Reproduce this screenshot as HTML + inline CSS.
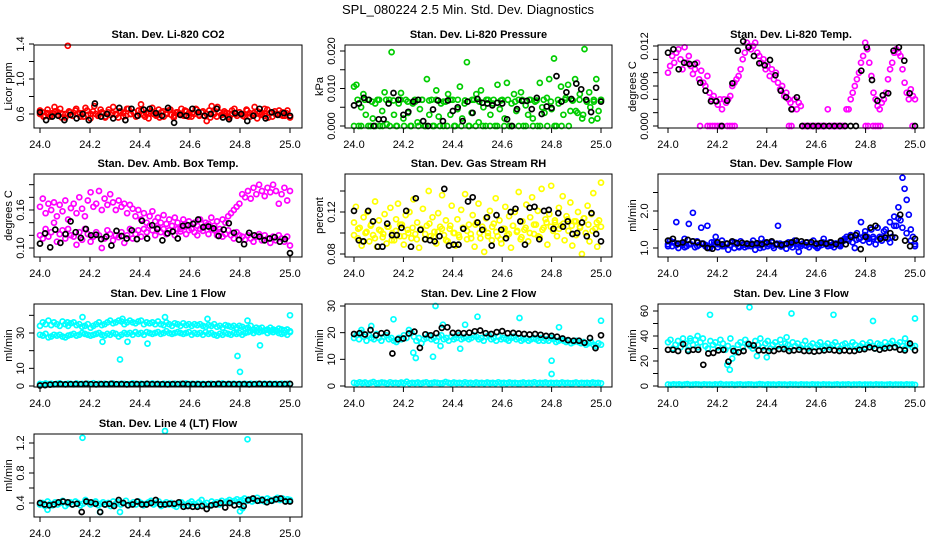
<!DOCTYPE html>
<html><head><meta charset="utf-8"><style>
html,body{margin:0;padding:0;background:#fff;}
svg{display:block;font-family:"Liberation Sans",Arial,sans-serif;}
</style></head><body>
<svg id="chart" width="936" height="540" viewBox="0 0 936 540">
<text x="468" y="14" text-anchor="middle" font-size="13">SPL_080224  2.5 Min. Std. Dev. Diagnostics</text>
</svg>
<script>
// ---------- data ----------
const co2Red=[0.60,0.62,0.58,0.65,0.57,0.61,0.63,0.59,0.66,0.60,0.56,1.38,0.62,0.58,0.64,0.60,0.57,0.61,0.67,0.59,0.55,0.63,0.60,0.58,0.65,0.61,0.57,0.62,0.59,0.68,0.60,0.56,0.63,0.61,0.58,0.66,0.60,0.62,0.57,0.64,0.71,0.59,0.61,0.55,0.63,0.60,0.58,0.65,0.62,0.57,0.61,0.64,0.59,0.56,0.62,0.60,0.66,0.58,0.63,0.61,0.57,0.60,0.65,0.59,0.62,0.58,0.52,0.64,0.69,0.60,0.57,0.62,0.59,0.63,0.61,0.56,0.60,0.66,0.58,0.62,0.60,0.57,0.64,0.61,0.59,0.68,0.55,0.62,0.60,0.58,0.65,0.61,0.57,0.63,0.60,0.59,0.62,0.58,0.64,0.56];
const co2Red2=[0.64,0.57,0.61,0.59,0.68,0.62,0.56,0.60,0.63,0.58,0.66,0.61,0.57,0.64,0.60,0.69,0.58,0.62,0.56,0.65,0.61,0.59,0.63,0.57,0.66,0.60,0.62,0.58,0.64,0.57,0.61,0.67,0.59,0.56,0.63,0.60,0.65,0.58,0.62,0.59,0.64,0.57,0.61,0.66,0.58,0.63,0.60,0.56,0.62,0.68,0.59,0.61,0.57,0.64,0.60,0.62,0.58,0.65,0.57,0.61,0.63,0.59,0.66,0.56,0.62,0.60,0.64,0.58,0.61,0.57];
const co2Black=[0.62,0.53,0.57,0.58,0.53,0.59,0.55,0.60,0.53,0.72,0.57,0.60,0.55,0.67,0.53,0.66,0.58,0.65,0.66,0.61,0.58,0.67,0.50,0.59,0.58,0.66,0.62,0.58,0.60,0.66,0.56,0.54,0.61,0.60,0.52,0.58,0.66,0.55,0.62,0.59,0.61,0.58];
const presGreen=[0.0105,0.011,0,0.005,0.0085,0.003,0.007,0,0.002,0.006,0.007,0,0.004,0.009,0.0005,0.007,0.0197,0.003,0,0.006,0.0088,0.002,0.007,0.0035,0,0.006,0.0065,0.001,0.0045,0.007,0,0.0125,0.003,0.007,0,0.0095,0.0025,0.006,0,0.0065,0.0085,0.003,0.007,0,0.0045,0.0105,0.002,0.006,0.017,0,0.0035,0.007,0.0085,0.001,0.0095,0.005,0,0.007,0.003,0.006,0,0.011,0.0045,0.007,0.002,0.0115,0,0.006,0.0085,0.004,0.007,0.009,0,0.0055,0.003,0.007,0.002,0.0065,0,0.0115,0.005,0.0035,0.0075,0.0125,0.0045,0.018,0,0.006,0.0105,0.003,0.0075,0.011,0.004,0.0068,0.0125,0.0035,0.0085,0.002,0.0205,0.0065,0.009,0.0015,0.0065,0.0125,0.004,0.007];
const presGreen2=[0,0.007,0,0.007,0,0.0065,0,0.007,0,0.007,0,0.0068,0,0.007,0,0.0065,0,0.007,0,0.007,0,0.0068,0,0.007,0,0.0065,0,0.007,0,0.007,0,0.0068,0,0.007,0,0.0065,0,0.007,0,0.007,0,0.0068,0,0.007,0,0.0065,0,0.007,0,0.007,0,0.0068,0,0.007,0,0.0065,0,0.007,0,0.007,0,0.0068,0.004,0.007,0.003,0.0065,0.005,0.007,0.002,0.007];
const presBlack=[0.0055,0.006,0.0075,0.007,0,0.0018,0.0018,0.006,0.0088,0.007,0.003,0.0038,0.0065,0.007,0.0013,0,0.0044,0.0068,0.0013,0.0068,0.004,0.005,0.0013,0.0065,0.0035,0.0072,0.0062,0.006,0.0055,0.0062,0.006,0.0018,0,0.0045,0.0067,0.0067,0.0045,0.0075,0.0032,0.0052,0.0048,0.0133,0.0065,0.009,0.0072,0.0113,0.0098,0.007,0.0037,0.0102,0.0065];
const tempMag=[0.008,0.009,0.0105,0.0095,0.011,0.0115,0.01,0.0085,0.0118,0.0095,0.0105,0.009,0.0078,0.0085,0.0095,0.007,0.0083,0.0065,0.006,0.0075,0.005,0.004,0.0045,0.0038,0.0032,0.004,0.0025,0.004,0.0035,0.004,0.0045,0.006,0.0065,0.007,0.0075,0.0085,0.01,0.011,0.0125,0.012,0.0115,0.012,0.0125,0.011,0.0105,0.0095,0.01,0.0085,0.009,0.0075,0.0085,0.007,0.008,0.0065,0.0055,0.006,0.0045,0.005,0.004,0.0035,0.0025,0.004,0.0025,0.0035,0.003,0,0,0,0,0,0,0,0,0,0,0,0,0.0025,0,0,0,0,0,0,0,0,0.0025,0.0025,0.004,0.005,0.006,0.007,0.008,0.0095,0.0105,0.0125,0.0115,0.0095,0.0075,0.005,0.004,0.003,0.0025,0.0035,0.004,0.005,0.007,0.0085,0.0095,0.011,0.0115,0.011,0.0105,0.0085,0.0065,0.005,0.004,0.0055,0.0045,0.004];
const tempZeroX=[24.13,24.16,24.17,24.18,24.19,24.2,24.21,24.22,24.24,24.25,24.26,24.27,24.49,24.5,24.8,24.81,24.83,24.84,24.85,24.86,24.99];
const tempZeroY=[0,0,0,0,0,0,0,0,0,0,0,0,0,0,0,0,0,0,0,0,0];
const tempBlack=[0.011,0.0115,0.0085,0.0095,0.0093,0.0093,0.0065,0.0053,0.0037,0.0037,0,0.0038,0.0064,0.0113,0.0127,0.0118,0.0105,0.0094,0.0091,0.0099,0.0076,0.0053,0.0043,0.0025,0.0043,0,0,0,0,0,0,0,0,0,0,0,0.0083,0.0118,0.0069,0.0038,0.0046,0.0049,0.0113,0.0118,0.0098,0.0049,0];
const ambUpper=[0.165,0.178,0.155,0.17,0.16,0.172,0.15,0.168,0.158,0.175,0.145,0.163,0.17,0.155,0.18,0.162,0.15,0.175,0.188,0.165,0.17,0.19,0.16,0.178,0.168,0.185,0.172,0.16,0.175,0.165,0.17,0.155,0.168,0.162,0.15,0.16,0.145,0.155,0.14,0.15,0.158,0.142,0.148,0.14,0.152,0.138,0.145,0.135,0.148,0.14,0.13,0.145,0.137,0.142,0.13,0.14,0.135,0.145,0.132,0.14,0.138,0.148,0.135,0.142,0.13,0.145,0.14,0.15,0.155,0.16,0.165,0.17,0.185,0.18,0.19,0.178,0.195,0.185,0.2,0.19,0.182,0.195,0.188,0.2,0.19,0.17,0.185,0.195,0.175,0.19];
const ambLower=[0.12,0.115,0.13,0.118,0.125,0.14,0.11,0.122,0.128,0.115,0.13,0.12,0.118,0.105,0.125,0.113,0.13,0.122,0.11,0.118,0.125,0.12,0.1,0.115,0.128,0.122,0.112,0.12,0.117,0.125,0.108,0.12,0.13,0.115,0.122,0.128,0.118,0.13,0.125,0.135,0.128,0.12,0.132,0.125,0.13,0.122,0.128,0.135,0.12,0.13,0.126,0.133,0.122,0.128,0.13,0.125,0.12,0.13,0.127,0.135,0.122,0.13,0.128,0.12,0.125,0.118,0.122,0.128,0.12,0.115,0.125,0.12,0.118,0.113,0.12,0.115,0.11,0.118,0.122,0.112,0.12,0.115,0.108,0.118,0.112,0.12,0.115,0.11,0.118,0.104];
const ambBlack=[0.107,0.123,0.101,0.129,0.108,0.122,0.142,0.125,0.116,0.13,0.12,0.121,0.114,0.118,0.104,0.127,0.119,0.115,0.128,0.114,0.143,0.115,0.136,0.13,0.112,0.123,0.126,0.115,0.135,0.136,0.138,0.145,0.133,0.134,0.131,0.119,0.129,0.139,0.124,0.113,0.106,0.124,0.12,0.118,0.112,0.115,0.117,0.11,0.114,0.092];
const rhYellow=[0.11,0.125,0.095,0.105,0.088,0.115,0.1,0.12,0.092,0.108,0.098,0.13,0.087,0.112,0.102,0.096,0.118,0.09,0.106,0.124,0.1,0.093,0.113,0.128,0.097,0.108,0.089,0.117,0.103,0.12,0.095,0.132,0.099,0.11,0.086,0.104,0.123,0.094,0.107,0.14,0.097,0.115,0.101,0.09,0.119,0.106,0.136,0.098,0.112,0.092,0.104,0.126,0.1,0.088,0.113,0.096,0.122,0.105,0.137,0.094,0.108,0.099,0.117,0.087,0.11,0.128,0.095,0.106,0.082,0.114,0.1,0.121,0.093,0.109,0.133,0.097,0.112,0.09,0.104,0.125,0.098,0.116,0.086,0.107,0.12,0.101,0.139,0.094,0.111,0.103,0.127,0.092,0.115,0.134,0.099,0.108,0.121,0.096,0.142,0.105,0.113,0.089,0.118,0.145,0.102,0.11,0.097,0.124,0.107,0.135,0.093,0.116,0.102,0.129,0.088,0.111,0.098,0.12,0.106,0.08,0.114,0.1,0.126,0.092,0.118,0.138,0.104,0.087,0.112,0.148];
const rhYellow2=[0.098,0.104,0.092,0.101,0.107,0.095,0.103,0.099,0.106,0.093,0.102,0.108,0.097,0.1,0.105,0.094,0.103,0.099,0.109,0.096,0.101,0.104,0.093,0.107,0.1,0.098,0.105,0.102,0.095,0.108,0.1,0.103,0.097,0.106,0.101,0.094,0.104,0.099,0.107,0.102,0.096,0.105,0.1,0.108,0.097,0.103,0.11,0.106,0.112,0.104,0.109,0.113,0.107,0.111,0.105,0.114,0.108,0.102,0.11,0.106];
const rhBlack=[0.121,0.093,0.092,0.121,0.111,0.087,0.087,0.109,0.098,0.098,0.105,0.121,0.087,0.133,0.103,0.094,0.093,0.092,0.097,0.142,0.088,0.089,0.089,0.104,0.13,0.134,0.11,0.103,0.115,0.088,0.117,0.103,0.095,0.12,0.123,0.111,0.089,0.124,0.125,0.094,0.121,0.122,0.104,0.119,0.106,0.111,0.099,0.1,0.11,0.097,0.119,0.099,0.092];
const flowBlue=[1.1,1.2,1.05,1.15,1.7,1.0,1.12,1.08,1.25,1.05,1.65,1.1,1.95,1.02,1.18,1.08,1.55,1.12,1.05,1.6,1.0,1.15,1.08,1.3,1.02,1.1,1.2,1.05,1.12,0.95,1.08,1.15,1.0,1.1,1.05,1.18,1.08,1.02,1.12,1.1,1.05,1.2,0.95,1.1,1.08,1.25,1.02,1.12,1.05,1.1,1.15,1.0,1.08,1.6,1.12,1.05,1.1,0.98,1.15,1.08,1.02,1.2,1.1,0.9,1.05,1.12,1.08,1.15,1.02,1.1,1.2,1.05,1.0,1.12,1.08,1.25,1.1,1.05,1.15,1.08,1.02,1.12,1.1,1.05,1.18,1.25,1.3,1.2,1.35,1.15,1.0,1.4,1.25,1.7,1.2,1.45,1.3,1.15,1.5,1.25,1.1,1.55,1.3,1.2,1.45,1.35,1.25,1.15,1.3,1.85,1.6,2.1,1.75,2.9,2.6,2.3,1.9,1.5,1.3,1.05];
const flowBlue2=[1.05,1.15,1.08,1.12,1.02,1.1,1.18,1.05,1.12,1.08,1.0,1.15,1.1,1.05,1.12,1.08,1.15,1.02,1.1,1.05,1.12,1.08,1.0,1.15,1.1,1.06,1.12,1.04,1.1,1.08,1.14,1.02,1.1,1.06,1.12,1.08,1.04,1.15,1.1,1.06,1.12,1.08,1.2,1.25,1.3,1.22,1.28,1.35,1.25,1.3,1.22,1.28,1.5,1.7,1.6,1.8,1.55,1.4,1.2,1.1];
const flowBlack=[1.2,1.25,1.12,1.15,1.22,1.18,1.15,1.12,1.0,0.98,1.15,1.1,1.12,1.18,1.13,1.14,1.12,1.1,1.13,1.1,1.15,1.18,1.1,1.08,1.12,1.15,1.2,1.18,1.15,1.16,1.12,1.14,1.12,1.15,1.1,1.2,1.1,1.3,1.35,0.97,1.3,1.55,1.6,1.25,1.28,1.4,1.28,1.9,1.2,1.05,1.25];
const lowCyan=[1.2,1.0,1.4,1.1,1.3,0.9,1.2,1.5,1.0,1.1,1.3,1.2,0.9,1.4,1.1,1.2,1.0,1.3,1.1,1.6,1.0,1.2,1.1,1.3,0.9,1.2,1.4,1.0,1.1,1.3,1.2,1.0,1.1,1.5,1.2,1.0,1.3,1.1,1.2,1.0,1.4,1.1,1.2,0.9,1.3,1.1,1.2,1.0,1.3,1.1,1.2,1.0,1.4,1.1,1.2,1.0,1.3,1.1,1.2,1.0,1.1,1.3,1.0,1.2,1.1,1.4,1.0,1.2,1.1,1.3,1.0,1.2,1.1,1.2,1.0,1.3,1.1,1.2,1.0,1.1,1.3,1.0,1.2,1.1,1.2,1.0,1.3,1.1,1.2,1.0];
const line1Upper=[34,36,35,37,34.5,36,35,34,36.5,35,34,35.5,36,34.5,35,33.5,34,35,33,34,35,36,34.5,35,36,37,35.5,36,37,36.5,35,36,37,36,35.5,36.5,37,35,36,35.5,36,35,36.5,35,34.5,36,35,34,35.5,35,34,35.5,34.5,35,34,35,34.5,35,34,33.5,34.5,34,35,33.5,34,33,34.5,34,33.5,34,33,34,33.5,32.5,33,34,32,33,32.5,33,31.5,32,33,32,31.5,32.5,32,31.5,32,31];
const line1Lower=[29,28.5,29.5,27.5,28,29,28.5,29,28,27.5,28.5,29,29.5,28.5,29,30,29.5,29,28.5,29,29.5,30,29,28.5,29.5,29,30,29.5,28,29,30,29.5,30,29,30.5,29.5,30,29,30.5,30,29.5,30,30.5,29.5,30,31,30,29.5,30,30.5,30,29.5,30,30.5,29,30,29.5,30,29,30.5,29.5,30,29,28.5,29.5,29,30,29.5,29,30,29.5,30,29,30,30.5,31,30,31,30.5,31,31.5,30,31,30.5,31,30,29.5,30,29,30.5];
const line1OutX=[24.17,24.11,24.33,24.32,24.43,24.5,24.67,24.79,24.8,24.83,24.88,25.0,24.25,24.35];
const line1OutY=[39,36,38,15,24,39,38,17,8,37,23,40,25,25];
const line1Black=[0.3,0.5,0.8,1.0,1.1,0.9,1.0,1.1,1.0,1.2,1.0,0.9,1.1,1.0,1.2,1.0,1.1,0.9,1.0,1.1,1.0,1.2,1.0,1.1,1.0,0.9,1.1,1.0,1.2,1.0,1.1,1.0,0.9,1.1,1.0,1.2,1.0,1.1,1.0,1.0,1.1,0.9,1.0,1.2,1.0,1.1,1.0,1.0,1.1,1.2];
const line2Cyan=[18,19,17.5,20,18.5,17,19,18,17.5,19.5,18,17,18.5,19,17.5,18,17,16.5,18,17.5,19,18,21,20,18.5,17,18,16,17.5,18,19,17.5,18,17,18.5,19,17.5,18,17,18.5,17.5,18,19,17.5,18,18.5,17.5,18,19,18.5,17.5,18,17,18.5,19,17.5,18,17,18.5,17.5,18,17.5,17,18,18.5,17.5,18,17,17.5,18,17,17.5,18,17.5,17,18,17,17.5,17,18,17.5,16.5,17,17.5,17,16.5,17,16,16.5,17,16.5,16,16.5,15.5,16,16.5,15.5,15,16,15.5];
const line2OutX=[24.03,24.07,24.16,24.24,24.25,24.32,24.33,24.35,24.36,24.43,24.45,24.5,24.67,24.8,24.8,24.83,25.0];
const line2OutY=[21,22.5,25,12.5,10.5,11,30,15,23,14,23,26,25.5,9.5,4.5,22,24.5];
const line2Black=[19.5,19.8,19.3,21,19,19.8,20,12.2,17.5,17.8,19.7,20.4,14.3,19.4,19,19.8,21.8,22,19.9,19.9,19.8,20,20.5,20.8,19.8,19.5,20.2,20.6,19.8,19.9,19.7,19.5,19.3,19.5,19.2,18.8,18.8,18.5,17.8,17.2,17,17,16.2,18,14.2,19];
const line3Cyan=[35,37,30,33,36,31,38,34,29,36,33,37,31,35,38,32,30,36,33,35,31,37,34,29,32,38,30,27,33,35,31,37,34,32,30,36,33,38,31,34,36,30,33,35,32,37,31,34,33,30,35,32,34,31,33,36,30,32,34,31,33,35,30,32,34,31,33,35,32,30,33,34,31,32,35,33,30,32,34,31,33,35,32,30,34,33,31,35,32,34,36,31,33,35,32,30,34,33,31,32];
const line3OutX=[24.17,24.33,24.5,24.67,24.83,25.0,24.24,24.25,24.26,24.36,24.4,24.09,24.12,24.48,24.96];
const line3OutY=[57,63,58,57,52,54,17,13,22,24,23,38,40,39,38];
const line3Black=[29,29,28,33.5,28,29,29,17,26,26.5,28.5,29,19.5,28,27,28,33.5,32.5,28.5,28.5,28,28,29.5,29.5,28,28.5,29,28,28,27.5,28,28.5,29,28.5,28,28.5,28,28,29,29.5,31,30,29,30,30.5,31,29,28.5,34,28.5];
const line4Cyan=[0.38,0.4,0.36,0.42,0.39,0.37,0.41,0.38,0.4,0.43,0.36,0.39,0.41,0.38,0.42,0.4,0.37,0.39,0.44,0.41,0.38,0.4,0.42,0.37,0.39,0.41,0.38,0.4,0.36,0.42,0.39,0.41,0.38,0.4,0.43,0.37,0.39,0.41,0.38,0.42,0.4,0.37,0.39,0.41,0.43,0.38,0.4,0.42,0.36,0.39,0.41,0.38,0.4,0.37,0.35,0.39,0.41,0.38,0.36,0.4,0.42,0.39,0.37,0.41,0.44,0.38,0.4,0.36,0.42,0.39,0.41,0.38,0.43,0.4,0.42,0.44,0.41,0.43,0.45,0.42,0.44,0.46,0.43,0.45,0.42,0.44,0.47,0.43,0.45,0.42,0.46,0.44,0.43,0.45,0.47,0.44,0.46,0.43,0.45,0.44];
const line4OutX=[24.17,24.5,24.83,24.03,24.24,24.32,24.8,24.81];
const line4OutY=[1.27,1.36,1.25,0.31,0.28,0.28,0.29,0.33];
const line4Black=[0.4,0.38,0.37,0.38,0.41,0.42,0.41,0.38,0.39,0.28,0.42,0.41,0.39,0.28,0.38,0.39,0.36,0.44,0.4,0.37,0.38,0.42,0.38,0.38,0.4,0.44,0.38,0.38,0.39,0.39,0.41,0.35,0.36,0.35,0.35,0.36,0.32,0.37,0.38,0.4,0.34,0.4,0.37,0.38,0.36,0.44,0.46,0.43,0.44,0.41,0.43,0.45,0.46,0.42,0.42];
const xTickVals=[24.0,24.2,24.4,24.6,24.8,25.0];
const xTickLabels=["24.0","24.2","24.4","24.6","24.8","25.0"];

// ---------- layout ----------
const NS="http://www.w3.org/2000/svg";
const svg=document.getElementById('chart');
const cols=[{l:34,r:302,x0:40,x1:290},{l:345,r:612,x0:354,x1:601},{l:658,r:924,x0:668,x1:915}];
const rows=[{t:45,b:128},{t:174,b:257},{t:304,b:387},{t:434,b:517}];
function mk(tag,attrs,parent){const e=document.createElementNS(NS,tag);for(const k in attrs)e.setAttribute(k,attrs[k]);(parent||svg).appendChild(e);return e;}
const panels=[
 {c:0,r:0,title:"Stan. Dev. Li-820 CO2",ylab:"Licor ppm",v0:0.6,p0:114,v1:1.4,p1:44,ticks:[0.6,0.8,1.0,1.2,1.4],labs:[0.6,1.0,1.4],dec:1,
  series:[{y:co2Red,col:"#ff0000"},{y:co2Red2,col:"#ff0000"},{y:co2Black,col:"#000"}]},
 {c:1,r:0,title:"Stan. Dev. Li-820 Pressure",ylab:"kPa",v0:0,p0:126,v1:0.02,p1:51,ticks:[0,0.005,0.01,0.015,0.02],labs:[0,0.01,0.02],dec:3,
  series:[{y:presGreen,col:"#00cd00"},{y:presGreen2,col:"#00cd00"},{y:presBlack,col:"#000"}]},
 {c:2,r:0,title:"Stan. Dev. Li-820 Temp.",ylab:"degrees C",v0:0,p0:126,v1:0.012,p1:46,ticks:[0,0.002,0.004,0.006,0.008,0.01,0.012],labs:[0,0.006,0.012],dec:3,
  series:[{y:tempMag,col:"#ff00ff"},{x:tempZeroX,y:tempZeroY,col:"#ff00ff"},{y:tempBlack,col:"#000"}]},
 {c:0,r:1,title:"Stan. Dev. Amb. Box Temp.",ylab:"degrees C",v0:0.10,p0:248,v1:0.16,p1:210,ticks:[0.10,0.12,0.14,0.16,0.18,0.20],labs:[0.10,0.16],dec:2,
  series:[{y:ambUpper,col:"#ff00ff"},{y:ambLower,col:"#ff00ff"},{y:ambBlack,col:"#000"}]},
 {c:1,r:1,title:"Stan. Dev. Gas Stream RH",ylab:"percent",v0:0.08,p0:254,v1:0.12,p1:212,ticks:[0.08,0.10,0.12,0.14],labs:[0.08,0.12],dec:2,
  series:[{y:rhYellow,col:"#ffff00"},{y:rhYellow2,col:"#ffff00"},{y:rhBlack,col:"#000"}]},
 {c:2,r:1,title:"Stan. Dev. Sample Flow",ylab:"ml/min",v0:1.0,p0:248,v1:2.0,p1:211,ticks:[1.0,1.5,2.0,2.5],labs:[1.0,2.0],dec:1,
  series:[{y:flowBlue,col:"#0000ff"},{y:flowBlue2,col:"#0000ff"},{y:flowBlack,col:"#000"}]},
 {c:0,r:2,title:"Stan. Dev. Line 1 Flow",ylab:"ml/min",v0:0,p0:386,v1:30,p1:333,ticks:[0,10,20,30,40],labs:[0,10,30],dec:0,
  series:[{y:line1Upper,col:"#00ffff"},{y:line1Lower,col:"#00ffff"},{y:lowCyan,col:"#00ffff"},{x:line1OutX,y:line1OutY,col:"#00ffff"},{y:line1Black,col:"#000"}]},
 {c:1,r:2,title:"Stan. Dev. Line 2 Flow",ylab:"ml/min",v0:0,p0:386,v1:30,p1:306,ticks:[0,10,20,30],labs:[0,10,20,30],dec:0,
  series:[{y:line2Cyan,col:"#00ffff"},{y:lowCyan,col:"#00ffff"},{x:line2OutX,y:line2OutY,col:"#00ffff"},{y:line2Black,col:"#000"}]},
 {c:2,r:2,title:"Stan. Dev. Line 3 Flow",ylab:"ml/min",v0:0,p0:386,v1:60,p1:311,ticks:[0,10,20,30,40,50,60],labs:[0,20,40,60],dec:0,
  series:[{y:line3Cyan,col:"#00ffff"},{y:lowCyan,col:"#00ffff"},{x:line3OutX,y:line3OutY,col:"#00ffff"},{y:line3Black,col:"#000"}]},
 {c:0,r:3,title:"Stan. Dev. Line 4 (LT) Flow",ylab:"ml/min",v0:0.4,p0:503,v1:1.2,p1:443,ticks:[0.4,0.6,0.8,1.0,1.2],labs:[0.4,0.8,1.2],dec:1,
  series:[{y:line4Cyan,col:"#00ffff"},{x:line4OutX,y:line4OutY,col:"#00ffff"},{y:line4Black,col:"#000"}]}
];
panels.forEach((p,pi)=>{
  const C=cols[p.c],R=rows[p.r];
  const g=mk('g',{});
  
  
  const xs=v=>C.x0+(v-24)*(C.x1-C.x0);
  const ys=v=>p.p0+(v-p.v0)*(p.p1-p.p0)/(p.v1-p.v0);
  const t=mk('text',{x:(C.l+C.r)/2,y:R.t-7,'text-anchor':'middle','font-size':11,'font-weight':'bold'},g);
  t.textContent=p.title;
  
  
  const pg=mk('g',{fill:'none','stroke-width':1.7},g);
  p.series.forEach((s,si)=>{
    const n=s.y.length;
    s.y.forEach((v,i)=>{
      const xv=s.x?s.x[i]:24+i/(n-1);
      const c=mk('circle',{cx:xs(xv).toFixed(1),cy:ys(v).toFixed(1),r:2.5,stroke:s.col},pg);
      
      
    });
  });
  const box=mk('rect',{x:C.l,y:R.t,width:C.r-C.l,height:R.b-R.t,fill:'none',stroke:'#000','stroke-width':1},g);
  
  
  xTickVals.forEach((v,i)=>{
    const x=xs(v);
    mk('line',{x1:x,x2:x,y1:R.b,y2:R.b+5,stroke:'#000'},g);
    const tl=mk('text',{x:x,y:R.b+20,'text-anchor':'middle','font-size':11},g);
    tl.textContent=xTickLabels[i];
    
    
  });
  p.ticks.forEach(v=>{
    const y=ys(v);
    mk('line',{x1:C.l-5,x2:C.l,y1:y,y2:y,stroke:'#000'},g);
  });
  p.labs.forEach(v=>{
    const y=ys(v),x=C.l-10;
    const tl=mk('text',{x:x,y:y,'text-anchor':'middle','font-size':11,transform:`rotate(-90 ${x} ${y})`},g);
    tl.textContent=v.toFixed(p.dec);
    
    
  });
  const yx=C.l-22,yy=(R.t+R.b)/2;
  const yl=mk('text',{x:yx,y:yy,'text-anchor':'middle','font-size':11,transform:`rotate(-90 ${yx} ${yy})`},g);
  yl.textContent=p.ylab;
  
  
});
</script>
</body></html>
